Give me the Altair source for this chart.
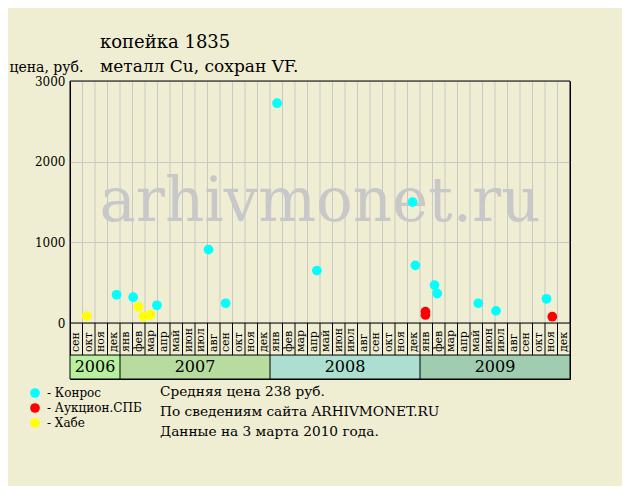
import calendar
import altair as alt
import pandas as pd

# ---- data -------------------------------------------------------------
month_labels = (["сен", "окт", "ноя", "дек"]
                + ["янв", "фев", "мар", "апр", "май", "июн",
                   "июл", "авг", "сен", "окт", "ноя", "дек"] * 3)
years = ["2006", "2007", "2008", "2009"]
year_month_counts = [4, 12, 12, 12]
year_fills = ["#b8f0a0", "#b8dca0", "#acdfd0", "#a0cdb0"]

konros_dates = ["2006-12-23", "2007-02-02", "2007-03-30", "2007-08-03",
                "2007-09-14", "2008-01-18", "2008-04-23", "2008-12-13",
                "2008-12-20", "2009-02-05", "2009-02-11", "2009-05-21",
                "2009-07-03", "2009-11-04"]
konros_prices = [350, 320, 220, 910, 245, 2725, 650, 1500, 715, 470, 365,
                 245, 150, 300]
auction_dates = ["2009-01-14", "2009-01-14", "2009-11-18"]
auction_prices = [140, 100, 78]
khabe_dates = ["2006-10-11", "2007-02-14", "2007-02-25", "2007-03-14"]
khabe_prices = [85, 200, 80, 100]

sources = ["Конрос", "Аукцион.СПБ", "Хабе"]
source_colors = ["#00ffff", "#ff0000", "#ffff00"]

y_ticks = [0, 1000, 2000, 3000]
info_lines = ["Средняя цена 238 руб.",
              "По сведениям сайта ARHIVMONET.RU",
              "Данные на 3 марта 2010 года."]

# ---- layout constants (price units below zero hold the label strips) --
Y_MIN = -694
ROW_SPLIT = -397
Y_MAX = 3000
N_MONTHS = len(month_labels)
FONT = "DejaVu Serif"
BG = "#f0eed2"
GRID = "#c8c8c8"


def month_pos(s):
    y, m, d = map(int, s.split("-"))
    return (y - 2006) * 12 + (m - 9) + (d - 0.5) / calendar.monthrange(y, m)[1]


pts = pd.DataFrame({
    "source": [sources[0]] * len(konros_dates) + [sources[1]] * len(auction_dates)
              + [sources[2]] * len(khabe_dates),
    "date": konros_dates + auction_dates + khabe_dates,
    "price": konros_prices + auction_prices + khabe_prices,
})
pts["pos"] = pts["date"].map(month_pos)

starts = [sum(year_month_counts[:i]) for i in range(len(years))]
band_df = pd.DataFrame({
    "year": years,
    "start": starts,
    "end": [s + c for s, c in zip(starts, year_month_counts)],
    "fill": year_fills,
})
band_df["mid"] = (band_df["start"] + band_df["end"]) / 2
band_df["y0"] = ROW_SPLIT
band_df["y1"] = Y_MIN
band_df["yc"] = (ROW_SPLIT + Y_MIN) / 2

month_df = pd.DataFrame({"label": month_labels,
                         "pos": [i + 0.5 for i in range(N_MONTHS)]})
month_df["y"] = -360


def vlines(bounds, lo, hi):
    return pd.DataFrame({"b": bounds, "y0": [lo] * len(bounds), "y1": [hi] * len(bounds)})


grid_df = vlines(list(range(1, N_MONTHS)), 0, Y_MAX)
month_sep_df = vlines(list(range(0, N_MONTHS + 1)), ROW_SPLIT, 0)
year_sep_df = vlines(starts + [N_MONTHS], Y_MIN, ROW_SPLIT)
frame_df = vlines([0, N_MONTHS], 0, Y_MAX)
h_df = pd.DataFrame({"h": [Y_MAX, 0, ROW_SPLIT, Y_MIN]})
h_df["x0"] = 0
h_df["x1"] = N_MONTHS
one = pd.DataFrame({"k": [0]})

xscale = alt.Scale(domain=[0, N_MONTHS], nice=False, zero=False)
yscale = alt.Scale(domain=[Y_MIN, Y_MAX], nice=False, zero=False)

y_axis = alt.Axis(
    values=y_ticks, format="d", grid=True, gridColor=GRID, domain=False, ticks=False,
    labelFont=FONT, labelFontSize=12, labelColor="black", labelPadding=5,
    title="цена, руб.", titleFont=FONT, titleFontSize=14,
    titleFontWeight="normal", titleColor="black", titleAngle=0,
    titleX=-61, titleY=-10, titleAlign="left", titleBaseline="alphabetic",
)


def X(f):
    return alt.X(f, scale=xscale, axis=None)


def Y(f):
    return alt.Y(f, scale=yscale, axis=y_axis)


# ---- layers -----------------------------------------------------------
bands = alt.Chart(band_df).mark_rect().encode(
    x=X("start:Q"), x2="end:Q", y=Y("y0:Q"), y2="y1:Q",
    fill=alt.Fill("fill:N", scale=None),
)


def rule_layer(df, color):
    return alt.Chart(df).mark_rule(color=color, strokeWidth=1).encode(
        x=X("b:Q"), y=Y("y0:Q"), y2="y1:Q")


grid_v = rule_layer(grid_df, GRID)
month_sep = rule_layer(month_sep_df, "black")
year_sep = rule_layer(year_sep_df, "black")
frame_v = rule_layer(frame_df, "black")
hlines = alt.Chart(h_df).mark_rule(color="black", strokeWidth=1).encode(
    x=X("x0:Q"), x2="x1:Q", y=Y("h:Q"))

watermark = alt.Chart(one).mark_text(
    font=FONT, fontSize=61, color="#c8c8c8", baseline="alphabetic", align="center"
).encode(x=alt.value(250), y=alt.value(140), text=alt.value("arhivmonet.ru"))

month_text = alt.Chart(month_df).mark_text(
    font=FONT, fontSize=11, angle=270, align="left", baseline="middle", color="black"
).encode(x=X("pos:Q"), y=Y("y:Q"), text="label:N")

year_text = alt.Chart(band_df).mark_text(
    font=FONT, fontSize=16, align="center", baseline="middle", color="black"
).encode(x=X("mid:Q"), y=Y("yc:Q"), text="year:N")

points = alt.Chart(pts).mark_circle(size=95, opacity=1).encode(
    x=X("pos:Q"),
    y=Y("price:Q"),
    color=alt.Color("source:N", scale=alt.Scale(domain=sources, range=source_colors),
                    legend=alt.Legend(
                        orient="none", legendX=-41, legendY=306, title=None,
                        symbolType="circle", symbolSize=95, symbolStrokeWidth=0,
                        labelFont=FONT, labelFontSize=12, labelColor="black",
                        labelExpr="'- ' + datum.label", rowPadding=3,
                        padding=0, labelOffset=6,
                    )),
)


def label(text, x, y, size):
    return alt.Chart(one).mark_text(
        font=FONT, fontSize=size, align="left", baseline="alphabetic", color="black"
    ).encode(x=alt.value(x), y=alt.value(y), text=alt.value(text))


title1 = label("копейка 1835", 30, -33, 18)
title2 = label("металл Cu, сохран VF.", 30, -9, 17)
info = [label(t, 90, 315 + 20 * i, 13.7) for i, t in enumerate(info_lines)]

chart = alt.layer(
    bands, grid_v, watermark, month_sep, year_sep, frame_v, hlines,
    month_text, year_text, points, title1, title2, *info,
).properties(
    width=500, height=298,
    autosize=alt.AutoSizeParams(type="none"),
    padding={"left": 62, "top": 73, "right": 52, "bottom": 107},
    background=BG,
).configure_view(stroke="black", strokeWidth=1)

chart.save("out.html", embed_options={"renderer": "svg", "actions": False})
